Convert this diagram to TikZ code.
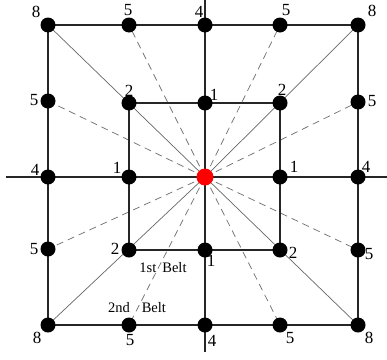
\documentclass[tikz,border=0pt]{standalone}
\usepackage{fontspec}
\setmainfont{Liberation Serif}
\begin{document}
\begin{tikzpicture}[x=1pt,y=-1pt,
  dot/.style={circle,fill=black,inner sep=0pt,minimum size=15pt},
  reddot/.style={circle,fill=red,inner sep=0pt,minimum size=17pt},
  grid/.style={line width=1.3pt,black!85},
  diag/.style={line width=0.7pt,black!60},
  dsh/.style={line width=0.75pt,black!55,dash pattern=on 7pt off 5pt},
  num/.style={font=\fontsize{17}{17}\selectfont,inner sep=0pt},
  belt/.style={font=\fontsize{14.5}{14.5}\selectfont,inner sep=0pt}]
\useasboundingbox (0,0) rectangle (387,359);
% grid coordinates
\coordinate (n00) at (48,25);  \coordinate (n10) at (129,25); \coordinate (n20) at (205,25); \coordinate (n30) at (280,25); \coordinate (n40) at (358,25);
\coordinate (n01) at (48,101); \coordinate (n11) at (129,103);\coordinate (n21) at (205,103);\coordinate (n31) at (280,103);\coordinate (n41) at (358,102);
\coordinate (n02) at (48,177); \coordinate (n12) at (129,177);\coordinate (c)   at (205,177);\coordinate (n32) at (280,177);\coordinate (n42) at (358,177);
\coordinate (n03) at (48,249); \coordinate (n13) at (129,250);\coordinate (n23) at (205,250);\coordinate (n33) at (280,250);\coordinate (n43) at (358,250);
\coordinate (n04) at (48,325); \coordinate (n14) at (129,325);\coordinate (n24) at (205,325);\coordinate (n34) at (280,325);\coordinate (n44) at (358,325);
\coordinate (axL) at (6,177); \coordinate (axR) at (387,177);
\coordinate (axT) at (205,0); \coordinate (axB) at (205,352);
% dashed rays
\foreach \p in {n10,n30,n01,n41,n03,n43,n14,n34} \draw[dsh] (c) -- (\p);
% solid diagonals
\foreach \p in {n00,n40,n04,n44} \draw[diag] (c) -- (\p);
% squares and axes
\draw[grid] (n00) -- (n40) -- (n44) -- (n04) -- cycle;
\draw[grid] (n11) -- (n31) -- (n33) -- (n13) -- cycle;
\draw[grid] (axL) -- (axR);
\draw[grid] (axT) -- (axB);
% dots
\foreach \p in {n00,n10,n20,n30,n40,n01,n11,n21,n31,n41,n02,n12,n32,n42,n03,n13,n23,n33,n43,n04,n14,n24,n34,n44}
  \node[dot] (d\p) at (\p) {};
\node[reddot] (dc) at (c) {};
% labels
\node[num] (l00) at (36,12) {8};
\node[num] (l10) at (128,10) {5};
\node[num] (l20) at (199,12) {4};
\node[num] (l30) at (286,10) {5};
\node[num] (l40) at (372,11) {8};
\node[num] (l11) at (129,91) {2};
\node[num] (l21) at (214,95) {1};
\node[num] (l31) at (282,90) {2};
\node[num] (l01) at (34,100) {5};
\node[num] (l41) at (372,101) {5};
\node[num] (l02) at (35,170) {4};
\node[num] (l12) at (117,168) {1};
\node[num] (l32) at (294,167) {1};
\node[num] (l42) at (366,167) {4};
\node[num] (l03) at (34,249) {5};
\node[num] (l13) at (115,249) {2};
\node[num] (l23) at (211,261) {1};
\node[num] (l33) at (293,253) {2};
\node[num] (l43) at (369,254) {5};
\node[num] (l04) at (37,338) {8};
\node[num] (l14) at (130,340) {5};
\node[num] (l24) at (212,341) {4};
\node[num] (l34) at (290,338) {5};
\node[num] (l44) at (369,338) {8};
\node[belt] (b1) at (163,268) {1st\hspace{6pt}Belt};
\node[belt] (b2) at (137,308) {2nd\hspace{12pt}Belt};
\end{tikzpicture}
\end{document}
